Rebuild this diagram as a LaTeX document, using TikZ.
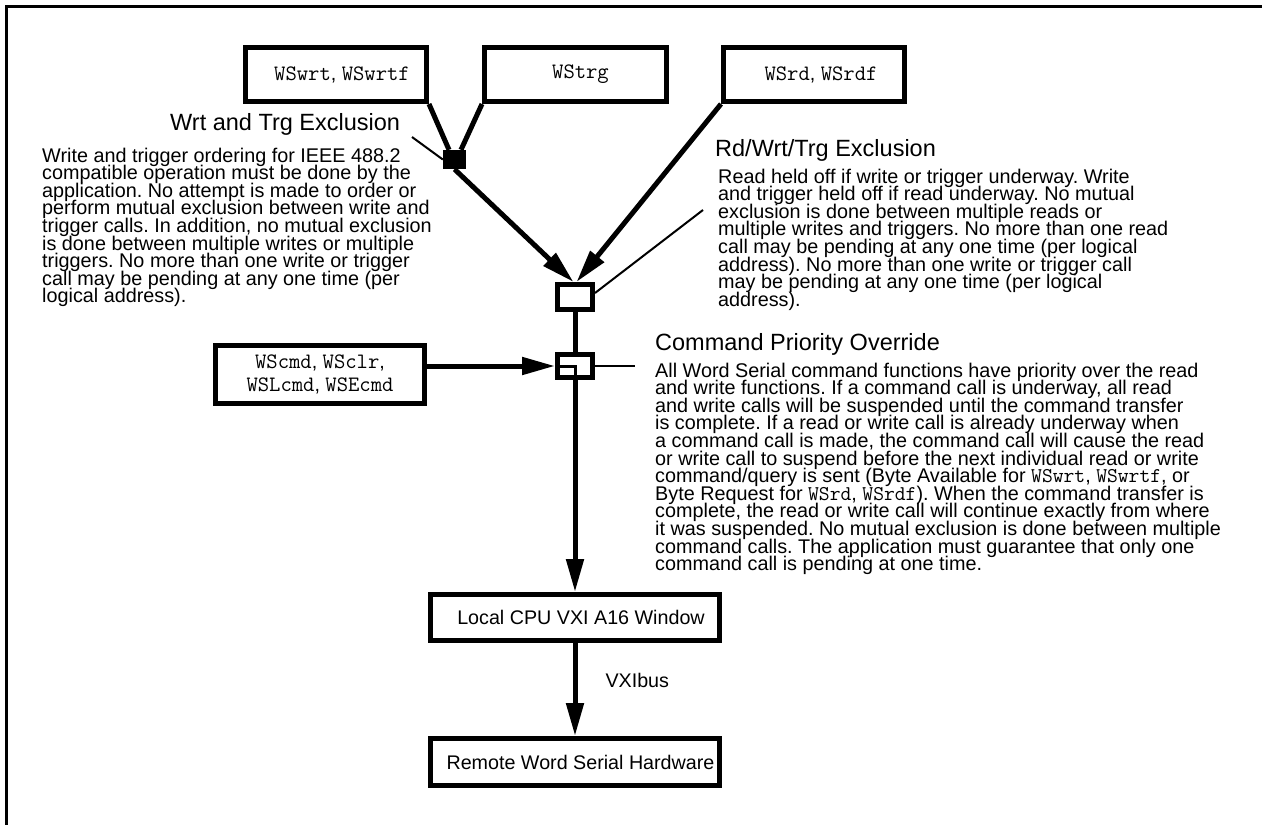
\documentclass[tikz,border=0pt]{standalone}
\usepackage{fontspec}
\setmainfont{Liberation Sans}
\usetikzlibrary{arrows.meta,calc}
% function names are set in a typewriter face
\newcommand\wsname[1]{{\fontsize{22}{22}\ttfamily #1}}
\newcommand\wsinline[1]{{\fontsize{21}{17.6}\ttfamily #1}}
% tightly set note text: fixed baseline distance regardless of line height
\newcommand\notefont{\fontsize{19.8}{17.6}\selectfont\frenchspacing\lineskiplimit=-20pt\relax\lineskip=0pt\relax}
\begin{document}
\begin{tikzpicture}[x=1pt,y=-1pt,
  thickbox/.style={draw, line width=5pt, inner sep=0pt,
    minimum width=181pt, minimum height=54pt,
    font=\fontsize{19.7}{23}\selectfont, align=center},
  smallbox/.style={draw, line width=5pt, inner sep=0pt,
    minimum width=35pt, minimum height=25pt},
  conn/.style={line width=5pt},
  flow/.style={line width=5pt, -{Triangle[length=33pt,width=17pt]}},
  leader/.style={line width=2pt},
  heading/.style={font=\fontsize{23.5}{28}\selectfont, inner sep=0pt, anchor=base west},
  % the base anchor of a note sits on its last line
  body/.style={font=\notefont, align=left, inner sep=0pt, anchor=base west}]
\useasboundingbox (0,0) rectangle (1262,825);

% outer frame (top and left edges)
\draw[line width=3pt] (6.5,830) -- (6.5,6.5) -- (1270,6.5);

% call boxes
\node[thickbox] (wswrt) at (336,74.5) {\hspace*{12pt}\wsname{WSwrt}, \wsname{WSwrtf}};
\node[thickbox, minimum width=182pt] (wstrg) at (575.5,74.5) {\hspace*{10pt}\wsname{WStrg}};
\node[thickbox] (wsrd) at (814,74.5) {\hspace*{14pt}\wsname{WSrd}, \wsname{WSrdf}};
\node[thickbox, minimum width=209pt, minimum height=58pt] (wscmd) at (320,374.5)
  {\wsname{WScmd}, \wsname{WSclr},\\ \wsname{WSLcmd}, \wsname{WSEcmd}};

% exclusion points
\node[fill=black, inner sep=0pt, minimum width=23pt, minimum height=19pt] (jn) at (454.5,159.5) {};
\node[smallbox] (b1) at (575,297) {};
\node[smallbox, minimum height=23pt] (b2) at (575,366) {};

% window and hardware
\node[thickbox, minimum width=289pt, minimum height=46pt] (local) at (575,617.5)
  {\hspace*{12pt}Local CPU VXI A16 Window};
\node[thickbox, minimum width=289pt, minimum height=47pt] (remote) at (575,762)
  {\hspace*{11pt}Remote Word Serial Hardware};

% connectors
\draw[conn] (wswrt.south east) -- ([xshift=-5.5pt]jn.north);
\draw[conn] (wstrg.south west) -- ([xshift=6.5pt]jn.north);
\draw[flow] (jn.south) -- ([xshift=-1.5pt]b1.north);
\draw[flow] (wsrd.south west) -- ([xshift=1.5pt]b1.north);
\draw[conn] (b1.south) -- (b2.north);
\draw[flow] (wscmd.east |- b2.west) -- (b2.west);
\draw[line width=3pt] (b2.west) -- (b2.center) -- (b2.south);
\draw[flow] (b2.south) -- (local.north);
\draw[flow] (local.south) -- node[pos=0.4, anchor=west, inner sep=0pt, xshift=28pt,
  font=\fontsize{19.7}{23}\selectfont] (bus) {VXIbus} (remote.north);

% leader lines to the notes
\coordinate (wtlead) at (412,137);
\coordinate (rdlead) at (703,210);
\coordinate (cplead) at (635,366);
\draw[leader] (wtlead) -- (jn.west);
\draw[leader] ([yshift=4pt]b1.east) -- (rdlead);
\draw[leader] (b2.east) -- (cplead);

% notes
\node[heading] (wthead) at (170,130) {Wrt and Trg Exclusion};
\node[body] (wtbody) at (42,302.8) {Write and trigger ordering for IEEE 488.2\\
compatible operation must be done by the\\
application. No attempt is made to order or\\
perform mutual exclusion between write and\\
trigger calls. In addition, no mutual exclusion\\
is done between multiple writes or multiple\\
triggers. No more than one write or trigger\\
call may be pending at any one time (per\\
logical address).};

\node[heading] (rdhead) at (715,156) {Rd/Wrt/Trg Exclusion};
\node[body] (rdbody) at (718,306.2) {Read held off if write or trigger underway. Write\\
and trigger held off if read underway. No mutual\\
exclusion is done between multiple reads or\\
multiple writes and triggers. No more than one read\\
call may be pending at any one time (per logical\\
address). No more than one write or trigger call\\
may be pending at any one time (per logical\\
address).};

\node[heading] (cphead) at (655,350) {Command Priority Override};
\node[body] (cpbody) at (655,570.6) {All Word Serial command functions have priority over the read\\
and write functions. If a command call is underway, all read\\
and write calls will be suspended until the command transfer\\
is complete. If a read or write call is already underway when\\
a command call is made, the command call will cause the read\\
or write call to suspend before the next individual read or write\\
command/query is sent (Byte Available for \wsinline{WSwrt}, \wsinline{WSwrtf}, or\\
Byte Request for \wsinline{WSrd}, \wsinline{WSrdf}). When the command transfer is\\
complete, the read or write call will continue exactly from where\\
it was suspended. No mutual exclusion is done between multiple\\
command calls. The application must guarantee that only one\\
command call is pending at one time.};
\end{tikzpicture}
\end{document}
